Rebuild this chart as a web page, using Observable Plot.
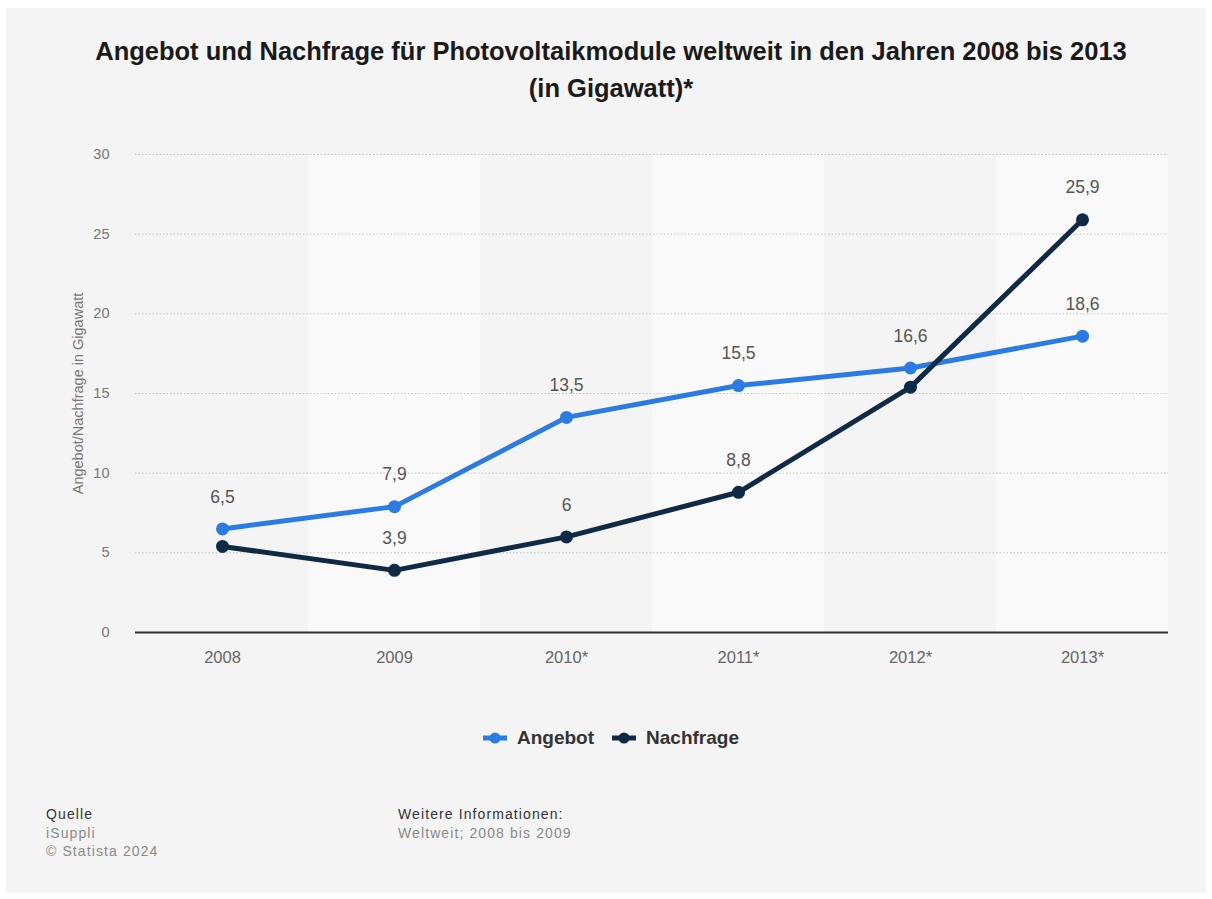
<!DOCTYPE html>
<html>
<head>
<meta charset="utf-8">
<script src="https://cdn.jsdelivr.net/npm/d3@7"></script>
<script src="https://cdn.jsdelivr.net/npm/@observablehq/plot@0.6"></script>
<style>
  html, body { margin: 0; padding: 0; background: #ffffff; width: 1212px; height: 899px; overflow: hidden; }
  body { position: relative; font-family: "Liberation Sans", Arial, Helvetica, sans-serif; }
  #panel { position: absolute; left: 6px; top: 8px; width: 1200px; height: 885px; background: #f4f4f4; }
  #title { position: absolute; left: 0; top: 33px; width: 1222px; text-align: center; font-weight: bold; font-size: 25.5px; line-height: 37px; color: #1a1a1a; }
  #chart { position: absolute; left: 0; top: 0; }
  #legend { position: absolute; top: 727px; left: 0; width: 1222px; display: flex; justify-content: center; align-items: center; font-weight: bold; font-size: 19px; color: #333; }
  #legend .item { display: flex; align-items: center; margin: 0 9px; }
  #legend svg { margin-right: 10px; }
  .foot { position: absolute; font-size: 14px; line-height: 18.5px; letter-spacing: 1.1px; }
  .foot .h { color: #333; }
  .foot .g { color: #8a8a8a; }
</style>
</head>
<body>
<div id="panel"></div>
<div id="title">Angebot und Nachfrage für Photovoltaikmodule weltweit in den Jahren 2008 bis 2013<br>(in Gigawatt)*</div>
<div id="chart"></div>
<div id="legend"></div>
<div class="foot" style="left:46px; top:805px;"><div class="h">Quelle</div><div class="g">iSuppli</div><div class="g">© Statista 2024</div></div>
<div class="foot" style="left:398px; top:805px;"><div class="h">Weitere Informationen:</div><div class="g">Weltweit; 2008 bis 2009</div></div>
<script>
const years = ["2008", "2009", "2010*", "2011*", "2012*", "2013*"];
const angebot = [6.5, 7.9, 13.5, 15.5, 16.6, 18.6];
const nachfrage = [5.4, 3.9, 6, 8.8, 15.4, 25.9];
const angebotShowLabel = [true, true, true, true, true, true];
const nachfrageShowLabel = [false, true, true, true, false, true];
const seriesNames = ["Angebot", "Nachfrage"];
const seriesColors = ["#2b7ce2", "#0f2a45"];
const yTicks = [0, 5, 10, 15, 20, 25, 30];
const lightBandYears = ["2009", "2011*", "2013*"];

const fmt = v => String(v).replace(".", ",");

const rows = [];
years.forEach((y, i) => {
  rows.push({year: y, series: "Angebot", value: angebot[i], show: angebotShowLabel[i]});
});
years.forEach((y, i) => {
  rows.push({year: y, series: "Nachfrage", value: nachfrage[i], show: nachfrageShowLabel[i]});
});
const A = rows.filter(d => d.series === "Angebot");
const N = rows.filter(d => d.series === "Nachfrage");

const plot = Plot.plot({
  width: 1212,
  height: 700,
  marginTop: 154,
  marginBottom: 68,
  marginLeft: 135,
  marginRight: 44,
  style: { background: "transparent", fontFamily: "'Liberation Sans', Arial, sans-serif" },
  x: { type: "band", domain: years, padding: 0 },
  y: { domain: [0, 30] },
  color: { domain: seriesNames, range: seriesColors },
  marks: [
    Plot.barY(lightBandYears, { x: d => d, y1: 0, y2: 30, fill: "#f9f9f9" }),
    Plot.gridY(yTicks.filter(t => t > 0), { stroke: "#c4c4c4", strokeOpacity: 1, strokeDasharray: "1.5,2", strokeWidth: 1 }),
    Plot.axisY({ ticks: yTicks, tickSize: 0, tickPadding: 26, fontSize: 14.5, color: "#777",
      label: "Angebot/Nachfrage in Gigawatt", labelAnchor: "center", labelOffset: 63, labelArrow: "none" }),
    Plot.axisX({ tickSize: 0, tickPadding: 19, fontSize: 16.5, color: "#666", label: null }),
    Plot.ruleY([0], { stroke: "#333", strokeWidth: 2 }),
    Plot.line(A, { x: "year", y: "value", stroke: "series", strokeWidth: 5 }),
    Plot.dot(A, { x: "year", y: "value", fill: "series", r: 6.5, stroke: null }),
    Plot.line(N, { x: "year", y: "value", stroke: "series", strokeWidth: 5 }),
    Plot.dot(N, { x: "year", y: "value", fill: "series", r: 6.5, stroke: null }),
    Plot.text(rows.filter(d => d.show), { x: "year", y: "value", text: d => fmt(d.value), dy: -32, fontSize: 17.5, fill: "#555" })
  ]
});
document.getElementById("chart").appendChild(plot);

const legend = document.getElementById("legend");
seriesNames.forEach((name, i) => {
  const item = document.createElement("div");
  item.className = "item";
  item.innerHTML = `<svg width="24" height="12"><line x1="0" y1="6" x2="24" y2="6" stroke="${seriesColors[i]}" stroke-width="5"/><circle cx="12" cy="6" r="5.5" fill="${seriesColors[i]}"/></svg><span>${name}</span>`;
  legend.appendChild(item);
});
</script>
</body>
</html>
